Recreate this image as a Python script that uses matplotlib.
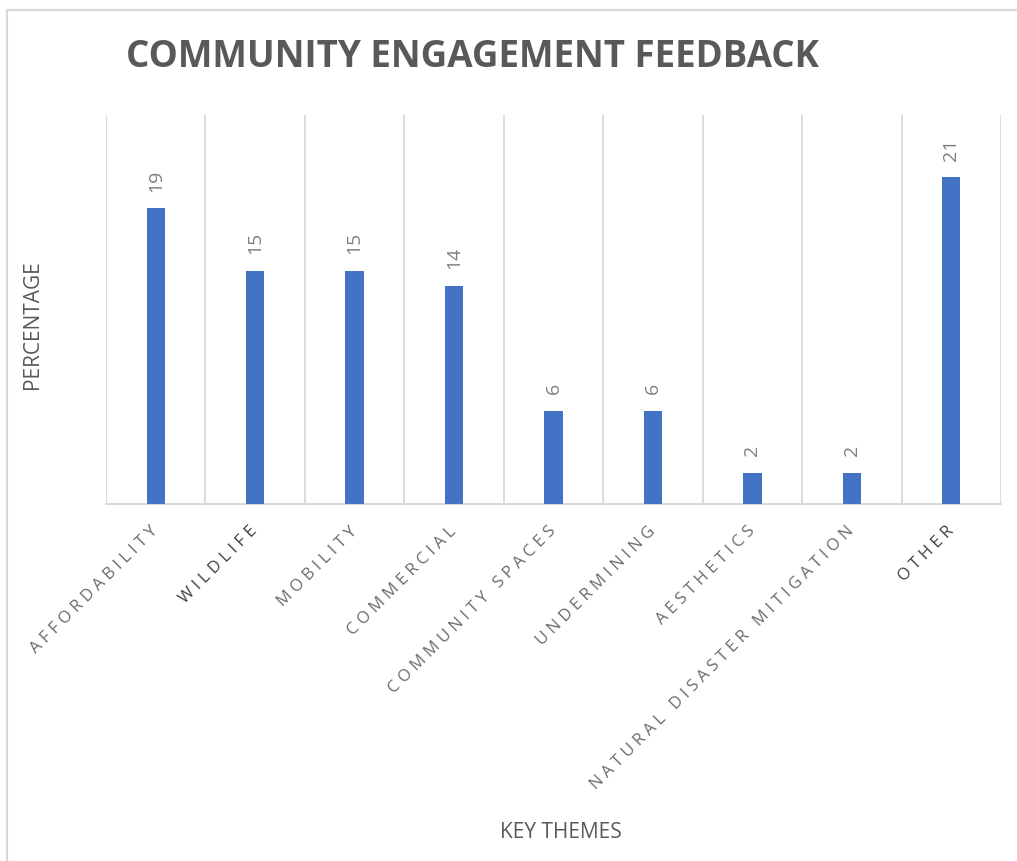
import matplotlib.pyplot as plt
from matplotlib.lines import Line2D

# data
themes = ['AFFORDABILITY', 'WILDLIFE', 'MOBILITY', 'COMMERCIAL', 'COMMUNITY SPACES',
          'UNDERMINING', 'AESTHETICS', 'NATURAL DISASTER MITIGATION', 'OTHER']
percent = [19, 15, 15, 14, 6, 6, 2, 2, 21]
dark_labels = ['WILDLIFE', 'OTHER']

plt.rcParams['font.family'] = ['Open Sans', 'DejaVu Sans']

fig = plt.figure(figsize=(10.17, 8.61), dpi=100)
W, H = 1017, 861
ax = fig.add_axes([106 / W, 1 - 504 / H, (1001 - 106) / W, (504 - 115) / H])

x = list(range(len(themes)))
bars = ax.bar(x, percent, width=0.185, color='#4472C4', zorder=3)

for b, v in zip(bars, percent):
    ax.annotate(str(v), (b.get_x() + b.get_width() / 2, v), xytext=(0, 12),
                textcoords='offset points', rotation=90, ha='center', va='bottom',
                fontsize=14, color='#7f7f7f')

ax.set_xlim(-0.5, len(themes) - 0.5)
ax.set_ylim(0, 25)
ax.set_yticks([])

# vertical lines between categories
for i in range(len(themes) + 1):
    ax.axvline(i - 0.5, color='#d9d9d9', lw=1.3, zorder=1)

for s in ['top', 'left', 'right']:
    ax.spines[s].set_visible(False)
ax.spines['bottom'].set_color('#d9d9d9')
ax.spines['bottom'].set_linewidth(1.5)

ax.set_xticks(x)
spaced = ['\u2009\u200a'.join(t) for t in themes]
ax.set_xticklabels(spaced, rotation=45, ha='right', va='center',
                   rotation_mode='anchor', fontsize=12)
ax.tick_params(axis='x', length=0, pad=18)
for lab, t in zip(ax.get_xticklabels(), themes):
    lab.set_color('#404040' if t in dark_labels else '#6b6b6b')

fig.text(472 / W, 1 - 57 / H, 'COMMUNITY ENGAGEMENT FEEDBACK', ha='center', va='center',
         fontsize=26.5, fontweight='bold', color='#595959')
fig.text(32 / W, 1 - 325 / H, 'PERCENTAGE', rotation=90, ha='center', va='center',
         fontsize=15, color='#595959')
fig.text(561 / W, 1 - 833 / H, 'KEY THEMES', ha='center', va='center',
         fontsize=15, color='#595959')

# chart border (top and left edges visible)
fig.add_artist(Line2D([7 / W, 1], [1 - 10 / H, 1 - 10 / H], color='#d9d9d9', lw=1.5))
fig.add_artist(Line2D([7 / W, 7 / W], [0, 1 - 10 / H], color='#d9d9d9', lw=1.5))

fig.savefig('out.png', dpi=100)
